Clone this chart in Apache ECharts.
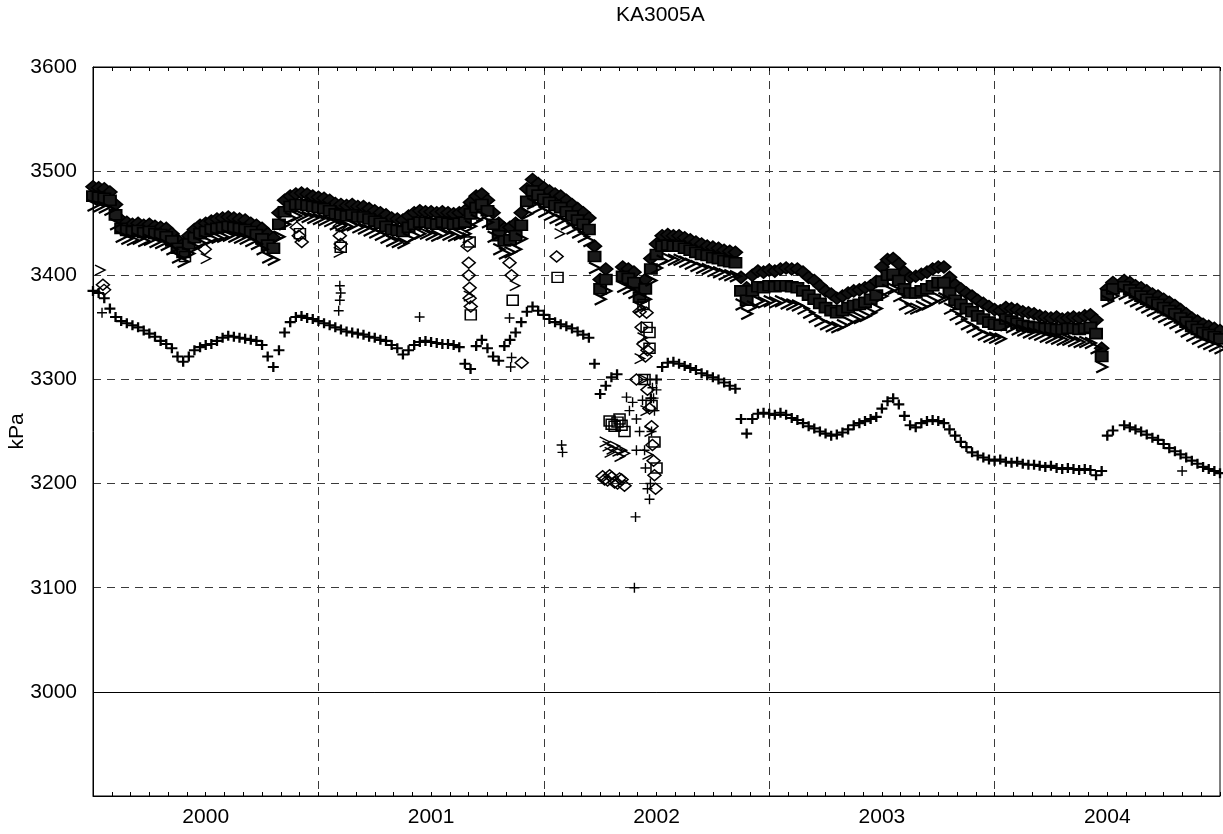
<!DOCTYPE html>
<html>
<head>
<meta charset="utf-8">
<title>KA3005A</title>
<script src="https://cdn.jsdelivr.net/npm/echarts@6/dist/echarts.min.js"></script>
<style>
  html, body { margin: 0; padding: 0; background: #fff; }
  #chart { width: 1223px; height: 834px; }
</style>
</head>
<body>
<div id="chart"></div>
<script>
  // year labels (centred in each year band)
  var years = ['2000', '2001', '2002', '2003', '2004'];
  var yTicks = [3000, 3100, 3200, 3300, 3400, 3500, 3600];

  // regular samples: first sample at 2000.0, one sample every 0.025 year
  var sampleStart = 2000;
  var sampleStep = 0.025;

  // section 1 (+), the lower curve
  var plusMain = [
    3385, 3383, 3378, 3368, 3360, 3356, 3354, 3352, 3350, 3347,
    3344, 3341, 3337, 3334, 3330, 3322, 3317, 3322, 3328, 3331,
    3333, 3334, 3337, 3340, 3342, 3341, 3340, 3339, 3338, 3337,
    3333, 3322, 3312, 3328, 3345, 3355, 3360, 3361, 3359, 3358,
    3356, 3354, 3352, 3350, 3348, 3346, 3345, 3344, 3343, 3341,
    3340, 3338, 3337, 3333, 3330, 3324, 3328, 3333, 3336, 3337,
    3336, 3335, 3334, 3334, 3333, 3331, 3315, 3310, 3332, 3338,
    3330, 3322, 3318, 3332, 3338, 3345, 3355, 3365, 3370, 3366,
    3362, 3358, 3355, 3353, 3351, 3349, 3346, 3343, 3340, 3315,
    3286, 3294, 3302, 3305, null, null, null, null, null, 3282,
    3300, 3312, 3316, 3317, 3315, 3313, 3311, 3309, 3306, 3304,
    3302, 3300, 3297, 3294, 3291, 3262, 3248, 3262, 3267, 3268,
    3267, 3266, 3268, 3266, 3263, 3261, 3258, 3255, 3253, 3250,
    3248, 3246, 3247, 3249, 3252, 3256, 3258, 3260, 3262, 3264,
    3272, 3279, 3282, 3276, 3265, 3256, 3254, 3258, 3260, 3261,
    3260, 3258, 3252, 3246, 3240, 3235, 3230, 3227, 3225, 3223,
    3222, 3223, 3221, 3220, 3221, 3219, 3218, 3218, 3217, 3216,
    3217, 3215, 3214, 3215, 3214, 3213, 3214, 3213, 3208, 3212,
    3246, 3251, null, 3256, 3254, 3252, 3250, 3247, 3244, 3242,
    3238, 3234, 3231, 3228, 3225, 3222, 3219, 3216, 3214, 3212, 3210
  ];

  // upper band, three sensors
  var diamondMain = [
    3485, 3484, 3483, 3480, 3468, 3453, 3451, 3449, 3450, 3448,
    3449, 3447, 3446, 3445, 3440, 3434, 3430, 3438, 3444, 3448,
    3450, 3452, 3454, 3455, 3456, 3455, 3454, 3453, 3450, 3448,
    3445, 3440, 3436, 3460, 3472, 3476, 3478, 3479, 3478, 3476,
    3475, 3474, 3472, 3469, 3468, 3467, 3468, 3466, 3466, 3464,
    3462, 3460, 3458, 3455, 3454, 3453, 3457, 3460, 3462, 3461,
    3461, 3460, 3461, 3460, 3459, 3460, 3462, 3470, 3476, 3478,
    3472, 3460, 3450, 3445, 3446, 3450, 3460, 3483, 3492, 3488,
    3484, 3481, 3478, 3476, 3472, 3468, 3464, 3460, 3455, 3428,
    3396, 3406, null, null, 3408, 3406, 3403, 3388, 3396, 3416,
    3430, 3438, 3439, 3438, 3438, 3436, 3434, 3432, 3430, 3428,
    3427, 3426, 3424, 3423, 3422, 3398, 3388, 3400, 3404, 3403,
    3405, 3404, 3406, 3407, 3406, 3406, 3403, 3398, 3395, 3390,
    3385, 3382, 3378, 3380, 3383, 3385, 3386, 3388, 3390, 3394,
    3408, 3415, 3416, 3411, 3403, 3398, 3399, 3401, 3403, 3406,
    3408, 3408, 3398, 3391, 3387, 3383, 3380, 3376, 3373, 3370,
    3367, 3366, 3369, 3368, 3367, 3365, 3364, 3363, 3361, 3360,
    3359, 3360, 3358, 3359, 3360, 3359, 3361, 3362, 3357, 3330,
    3387, 3393, null, 3395, 3393, 3390, 3388, 3385, 3382, 3380,
    3377, 3374, 3371, 3367, 3363, 3359, 3356, 3353, 3351, 3349, 3347
  ];

  var squareMain = [
    3476, 3475, 3474, 3472, 3458, 3445, 3443, 3442, 3443, 3441,
    3442, 3440, 3439, 3437, 3433, 3426, 3422, 3430, 3436, 3440,
    3442, 3444, 3445, 3446, 3447, 3446, 3445, 3444, 3442, 3439,
    3435, 3429, 3426, 3449, 3461, 3466, 3468, 3468, 3467, 3466,
    3465, 3464, 3462, 3459, 3458, 3457, 3458, 3456, 3456, 3454,
    3452, 3450, 3447, 3444, 3443, 3442, 3446, 3449, 3451, 3451,
    3450, 3449, 3451, 3450, 3449, 3450, 3451, 3459, 3465, 3468,
    3462, 3449, 3438, 3433, 3434, 3438, 3448, 3471, 3481, 3477,
    3473, 3470, 3467, 3465, 3461, 3457, 3453, 3449, 3444, 3418,
    3387, 3396, null, null, 3399, 3397, 3393, 3379, 3387, 3406,
    3420, 3428, 3429, 3428, 3428, 3426, 3424, 3422, 3420, 3419,
    3417, 3416, 3414, 3413, 3412, 3385, 3376, 3385, 3389, 3388,
    3390, 3389, 3390, 3390, 3389, 3388, 3385, 3381, 3377, 3373,
    3369, 3366, 3364, 3366, 3369, 3371, 3372, 3374, 3377, 3381,
    3394, 3400, 3401, 3395, 3387, 3383, 3383, 3385, 3387, 3390,
    3393, 3393, 3383, 3376, 3372, 3368, 3365, 3361, 3358, 3355,
    3353, 3352, 3358, 3356, 3354, 3352, 3351, 3350, 3350, 3349,
    3349, 3348, 3348, 3349, 3349, 3348, 3349, 3350, 3344, 3322,
    3381, 3387, null, 3389, 3386, 3383, 3380, 3377, 3374, 3372,
    3369, 3366, 3363, 3359, 3355, 3351, 3348, 3345, 3343, 3341, 3339
  ];

  var chevronMain = [
    3467, 3466, 3465, 3463, 3449, 3437, 3435, 3434, 3435, 3433,
    3434, 3432, 3431, 3429, 3425, 3417, 3413, 3421, 3427, 3431,
    3433, 3435, 3436, 3437, 3438, 3437, 3436, 3435, 3433, 3430,
    3425, 3417, 3415, 3437, 3449, 3455, 3457, 3457, 3456, 3455,
    3454, 3453, 3452, 3449, 3448, 3447, 3448, 3446, 3445, 3443,
    3441, 3439, 3436, 3433, 3432, 3431, 3435, 3438, 3440, 3440,
    3439, 3438, 3440, 3439, 3438, 3439, 3440, 3447, 3453, 3457,
    3451, 3437, 3425, 3421, 3422, 3425, 3435, 3459, 3469, 3465,
    3461, 3458, 3455, 3453, 3449, 3445, 3441, 3437, 3433, 3407,
    3377, 3385, null, null, 3389, 3387, 3383, 3369, 3377, 3395,
    3407, 3414, 3416, 3415, 3415, 3413, 3411, 3409, 3407, 3406,
    3404, 3403, 3401, 3400, 3399, 3372, 3363, 3370, 3375, 3374,
    3375, 3374, 3375, 3373, 3372, 3371, 3368, 3364, 3360, 3356,
    3353, 3351, 3350, 3352, 3355, 3358, 3359, 3361, 3364, 3368,
    3380, 3386, 3387, 3380, 3372, 3368, 3368, 3370, 3372, 3375,
    3378, 3378, 3368, 3362, 3358, 3353, 3350, 3346, 3343, 3341,
    3340, 3339, 3352, 3350, 3348, 3347, 3345, 3344, 3343, 3341,
    3340, 3339, 3338, 3338, 3337, 3336, 3336, 3335, 3330, 3312,
    3375, 3380, null, 3382, 3378, 3375, 3372, 3369, 3366, 3363,
    3360, 3357, 3354, 3350, 3346, 3342, 3339, 3336, 3334, 3332, 3330
  ];

  // scattered readings, [decimal year, kPa]
  var plusExtra = [
    [2000.040, 3364], [2001.095, 3390], [2001.099, 3383], [2001.095, 3376], [2001.090, 3366],
    [2001.449, 3360], [2001.848, 3359], [2001.857, 3321], [2001.853, 3312],
    [2002.079, 3237], [2002.083, 3230],
    [2002.367, 3283], [2002.380, 3270], [2002.394, 3278], [2002.411, 3262], [2002.425, 3250],
    [2002.447, 3232], [2002.451, 3215], [2002.460, 3195], [2002.469, 3185], [2002.473, 3200],
    [2002.407, 3168], [2002.402, 3100], [2002.478, 3250], [2002.491, 3270], [2002.500, 3290],
    [2002.438, 3280], [2002.460, 3300], [2002.411, 3232], [2002.482, 3292], [2002.487, 3282],
    [2004.832, 3212]
  ];
  var diamondExtra = [
    [2000.044, 3391], [2000.049, 3386], [2000.496, 3425],
    [2000.904, 3446], [2000.913, 3438], [2000.926, 3432],
    [2001.095, 3447], [2001.095, 3438], [2001.099, 3430],
    [2001.662, 3428], [2001.667, 3412], [2001.667, 3400], [2001.671, 3388], [2001.671, 3378], [2001.676, 3370],
    [2001.848, 3412], [2001.857, 3400], [2001.902, 3316], [2002.057, 3418],
    [2002.261, 3207], [2002.270, 3204], [2002.283, 3203], [2002.292, 3208], [2002.301, 3206],
    [2002.314, 3201], [2002.327, 3200], [2002.336, 3205], [2002.345, 3204], [2002.358, 3198],
    [2002.425, 3365], [2002.434, 3350], [2002.442, 3334], [2002.451, 3322], [2002.411, 3300],
    [2002.460, 3290], [2002.469, 3272], [2002.478, 3255], [2002.482, 3237], [2002.487, 3222],
    [2002.491, 3208], [2002.496, 3195], [2002.456, 3364], [2002.460, 3328]
  ];
  var squareExtra = [
    [2000.408, 3418], [2000.918, 3440], [2001.099, 3427], [2001.671, 3432], [2001.676, 3362],
    [2001.862, 3376], [2002.061, 3398],
    [2002.292, 3260], [2002.301, 3257], [2002.314, 3255], [2002.327, 3259], [2002.336, 3262],
    [2002.345, 3256], [2002.358, 3250],
    [2002.442, 3372], [2002.469, 3345], [2002.469, 3330], [2002.447, 3300], [2002.478, 3275],
    [2002.491, 3240], [2002.500, 3215], [2002.456, 3350]
  ];
  var chevronExtra = [
    [2000.031, 3405], [2000.500, 3416], [2001.090, 3422], [2001.662, 3436], [2001.667, 3380],
    [2001.871, 3390], [2002.070, 3440],
    [2002.270, 3240], [2002.283, 3236], [2002.292, 3230], [2002.301, 3233], [2002.314, 3236],
    [2002.327, 3231], [2002.336, 3226], [2002.345, 3232], [2002.358, 3229],
    [2002.425, 3320], [2002.442, 3300], [2002.451, 3270], [2002.469, 3250], [2002.460, 3228], [2002.438, 3340]
  ];

  function toPoints(values) {
    var pts = [];
    values.forEach(function (v, i) {
      if (v !== null) pts.push([sampleStart + i * sampleStep, v]);
    });
    return pts;
  }

  var FONT = '"Liberation Sans", Arial, Helvetica, sans-serif';
  var gridColor = '#3a3a3a';

  var PLUS = 'path://M0,5L10,5M5,0L5,10';
  var DIAMOND = 'path://M0,5L6,0L12,5L6,10Z';
  var CHEVRON = 'path://M0,0L10,5L0,10';

  function markerSeries(name, symbol, size, width, data, fill) {
    return {
      name: name,
      type: 'scatter',
      xAxisIndex: 0,
      yAxisIndex: 0,
      symbol: symbol,
      symbolSize: size,
      data: data,
      silent: true,
      itemStyle: {
        color: fill || 'rgba(0,0,0,0)',
        borderColor: '#000',
        borderWidth: width,
        opacity: 1   // scatter defaults to 0.8
      }
    };
  }

  var chart = echarts.init(document.getElementById('chart'));

  var plusSeries = markerSeries('+', PLUS, [11, 10], 2.2, toPoints(plusMain));
  // the 3000 kPa line is drawn solid
  plusSeries.markLine = {
    silent: true,
    symbol: 'none',
    label: { show: false },
    lineStyle: { color: '#000', type: 'solid', width: 1 },
    data: [{ yAxis: yTicks[0] }]
  };

  chart.setOption({
    animation: false,
    backgroundColor: '#fff',
    textStyle: { fontFamily: FONT },
    title: {
      text: 'KA3005A',
      left: 611,
      top: 0,
      textStyle: { fontFamily: FONT, fontSize: 21, fontWeight: 'normal', color: '#000' }
    },
    grid: {
      left: 93,
      right: 3,
      top: 67,
      bottom: 38,
      outerBoundsMode: 'none',
      containLabel: false,
      show: true,
      borderColor: '#000',
      borderWidth: 1,
      backgroundColor: 'rgba(0,0,0,0)'
    },
    xAxis: [
      {
        type: 'value',
        position: 'bottom',
        min: 2000,
        max: 2005,
        interval: 1,
        axisLine: { show: true, lineStyle: { color: '#000', width: 1 } },
        axisTick: { show: true, inside: true, length: 4, lineStyle: { color: '#000' } },
        minorTick: { show: true, splitNumber: 12, length: 4, lineStyle: { color: '#000' } },
        axisLabel: { show: false },
        splitLine: {
          show: true,
          showMinLine: false,
          showMaxLine: false,
          lineStyle: { color: gridColor, type: [8, 6], width: 1 }
        }
      },
      {
        type: 'value',
        position: 'top',
        min: 2000,
        max: 2005,
        interval: 1,
        axisLine: { show: true, lineStyle: { color: '#000', width: 1 } },
        axisTick: { show: true, inside: true, length: 4, lineStyle: { color: '#000' } },
        minorTick: { show: true, splitNumber: 12, length: 4, lineStyle: { color: '#000' } },
        axisLabel: { show: false },
        splitLine: { show: false }
      },
      {
        type: 'category',
        position: 'bottom',
        data: years,
        boundaryGap: true,
        axisLine: { show: false },
        axisTick: { show: false },
        splitLine: { show: false },
        axisLabel: { show: true, margin: 11, fontSize: 21, color: '#000', fontFamily: FONT }
      }
    ],
    yAxis: {
      type: 'value',
      min: 2900,
      max: 3600,
      interval: 100,
      name: 'kPa',
      nameLocation: 'middle',
      nameGap: 65,
      nameMoveOverlap: false,
      nameTextStyle: { fontSize: 21, color: '#000', fontFamily: FONT },
      axisLine: { show: true, lineStyle: { color: '#000', width: 1 } },
      axisTick: { show: false },
      axisLabel: {
        margin: 16,
        fontSize: 21,
        color: '#000',
        fontFamily: FONT,
        formatter: function (v) { return yTicks.indexOf(v) >= 0 ? String(v) : ''; }
      },
      splitLine: {
        show: true,
        showMinLine: false,
        showMaxLine: false,
        lineStyle: { color: gridColor, type: [8, 6], width: 1 }
      }
    },
    series: [
      plusSeries,
      // the dense runs of markers print almost solid black
      markerSeries('diamond', DIAMOND, [14, 12], 1.6, toPoints(diamondMain), '#111'),
      markerSeries('square', 'rect', [12, 10], 1.8, toPoints(squareMain), '#1a1a1a'),
      markerSeries('chevron', CHEVRON, [11, 11], 2.2, toPoints(chevronMain)),
      // isolated readings, drawn with a thin pen
      markerSeries('+ scattered', PLUS, [10, 10], 1.4, plusExtra),
      markerSeries('diamond scattered', DIAMOND, [13, 11], 1.5, diamondExtra),
      markerSeries('square scattered', 'rect', [11, 10], 1.5, squareExtra),
      markerSeries('chevron scattered', CHEVRON, [10, 10], 1.5, chevronExtra)
    ]
  });
</script>
</body>
</html>
